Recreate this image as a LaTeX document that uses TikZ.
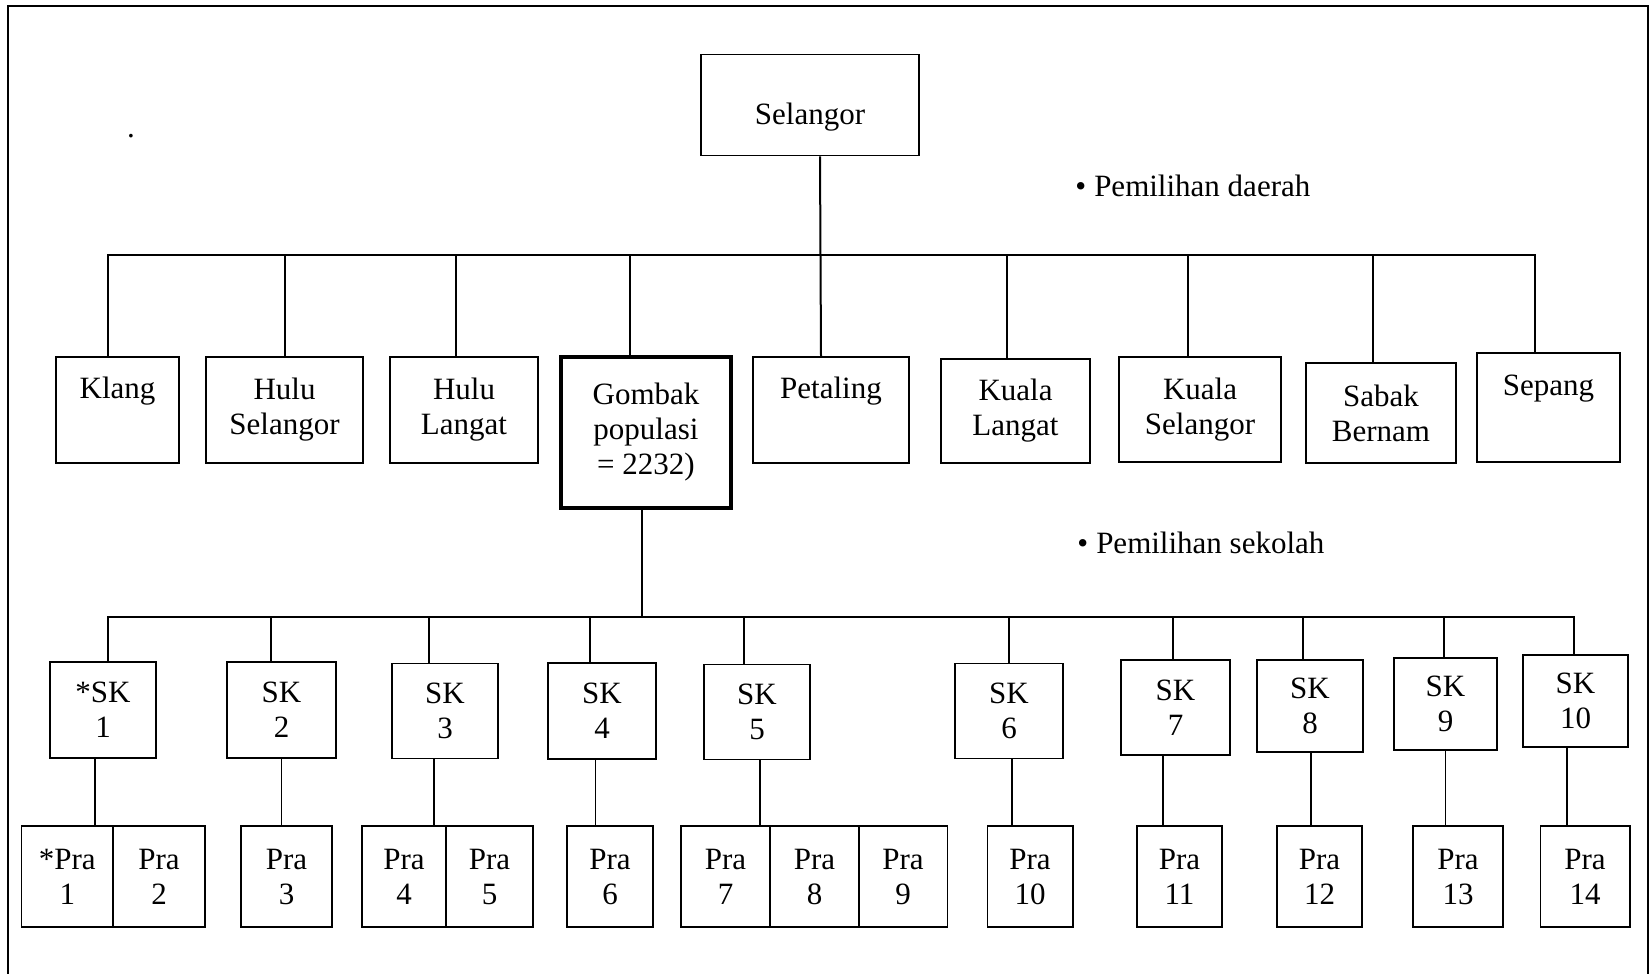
\documentclass[tikz,border=0pt]{standalone}
\usepackage{fontspec}
\setmainfont{Liberation Serif}
\usepackage{tikz}
\usetikzlibrary{positioning}

\begin{document}
\begin{tikzpicture}[
    x=0.5pt, y=-0.5pt,
    region/.style={draw, line width=0.8pt, align=center, inner sep=0pt, minimum height=53pt},
    school/.style={draw, line width=0.8pt, align=center, inner sep=0pt, minimum height=47.5pt},
    pre/.style={draw, line width=0.8pt, align=center, inner sep=0pt, minimum height=50.5pt},
    link/.style={line width=0.8pt},
    bus/.style={line width=1pt},
    note/.style={anchor=base west, inner sep=0pt},
    font=\fontsize{15.5}{17.5}\selectfont
]
\useasboundingbox (0,0) rectangle (1650,974);
\draw[line width=1pt] (8,974) -- (8,6) -- (1648,6) -- (1648,974);

\node[draw, line width=0.8pt, inner sep=0pt, minimum width=109pt, minimum height=50.5pt, text height=20pt, text depth=0pt] (selangor) at (810,105) {Selangor};
\node[anchor=base, inner sep=0pt] (dot) at (131,138) {.};
\node[note] (daerah) at (1075,197) {\textbullet\hspace{4pt}Pemilihan daerah};
\node[note] (sekolah) at (1077,553) {\textbullet\hspace{4pt}Pemilihan sekolah};

% daerah
\node[region, minimum width=61.5pt] (klang) at (117.5,410) {Klang\\\strut};
\node[region, minimum width=78.5pt] (hulusel) at (284.5,410) {Hulu\\Selangor};
\node[region, minimum width=74pt] (hululangat) at (464,410) {Hulu\\Langat};
\node[region, line width=1.7pt, minimum width=85pt, minimum height=75.5pt] (gombak) at (646,432.5) {Gombak\\populasi\\= 2232)};
\node[region, minimum width=78pt] (petaling) at (831,410) {Petaling\\\strut};
\node[region, minimum width=74.5pt, minimum height=52pt] (kualalangat) at (1015.5,411) {Kuala\\Langat};
\node[region, minimum width=81pt, minimum height=52.5pt] (kualasel) at (1200,409.5) {Kuala\\Selangor};
\node[region, minimum width=75pt, minimum height=50pt] (sabak) at (1381,413) {Sabak\\Bernam};
\node[region, minimum width=71.5pt, minimum height=54.5pt] (sepang) at (1548.5,407.5) {Sepang\\\strut};

% sekolah
\node[school, minimum width=53pt, minimum height=48pt] (sk1) at (103,710) {*SK\\1};
\node[school, minimum width=54.5pt, minimum height=48pt] (sk2) at (281.5,710) {SK\\2};
\node[school, minimum width=52.75pt] (sk3) at (445,711) {SK\\3};
\node[school, minimum width=54pt, minimum height=48pt] (sk4) at (602,711) {SK\\4};
\node[school, minimum width=52.75pt] (sk5) at (757,712) {SK\\5};
\node[school, minimum width=54pt] (sk6) at (1009,711) {SK\\6};
\node[school, minimum width=54.5pt] (sk7) at (1175.5,707.5) {SK\\7};
\node[school, minimum width=52.75pt, minimum height=46pt] (sk8) at (1310,706) {SK\\8};
\node[school, minimum width=51.5pt, minimum height=46pt] (sk9) at (1445.5,704) {SK\\9};
\node[school, minimum width=52.5pt, minimum height=46pt] (sk10) at (1575.5,701) {SK\\10};

% prasekolah
\node[pre, minimum width=45.7pt] (pra1) at (67.3,876.5) {*Pra\\1};
\node[pre, minimum width=46pt] (pra2) at (159,876.5) {Pra\\2};
\node[pre, minimum width=45.5pt] (pra3) at (286.5,876.5) {Pra\\3};
\node[pre, minimum width=42pt] (pra4) at (404,876.5) {Pra\\4};
\node[pre, minimum width=43.5pt] (pra5) at (489.5,876.5) {Pra\\5};
\node[pre, minimum width=43.25pt] (pra6) at (610,876.5) {Pra\\6};
\node[pre, minimum width=44.5pt] (pra7) at (725.5,876.5) {Pra\\7};
\node[pre, minimum width=44.5pt] (pra8) at (814.5,876.5) {Pra\\8};
\node[pre, minimum width=44.3pt] (pra9) at (903,876.5) {Pra\\9};
\node[pre, minimum width=42.7pt] (pra10) at (1030,876.5) {Pra\\10};
\node[pre, minimum width=42.5pt] (pra11) at (1179.5,876.5) {Pra\\11};
\node[pre, minimum width=42.5pt] (pra12) at (1319.5,876.5) {Pra\\12};
\node[pre, minimum width=45pt] (pra13) at (1458,876.5) {Pra\\13};
\node[pre, minimum width=44.7pt] (pra14) at (1585,876.5) {Pra\\14};

% selangor -> daerah
\coordinate (bus1) at (820,255);
\draw[bus] ([xshift=5pt]selangor.south) -- ([xshift=-5pt]petaling.north);
\draw[bus] ([xshift=-4.75pt]klang.north) |- (bus1);
\draw[bus] (hulusel.north) |- (bus1);
\draw[bus] ([xshift=-4pt]hululangat.north) |- (bus1);
\draw[bus] ([xshift=-8pt]gombak.north) |- (bus1);
\draw[bus] ([xshift=-4.25pt]kualalangat.north) |- (bus1);
\draw[bus] ([xshift=-6.25pt]kualasel.north) |- (bus1);
\draw[bus] ([xshift=-4pt]sabak.north) |- (bus1);
\draw[bus] ([xshift=-6.75pt]sepang.north) |- (bus1);

% gombak -> sekolah
\coordinate (bus2) at (642,617);
\draw[bus] ([xshift=-2pt]gombak.south) -- (bus2);
\draw[bus] ([xshift=2.5pt]sk1.north) |- (bus2);
\draw[bus] ([xshift=-5.25pt]sk2.north) |- (bus2);
\draw[bus] ([xshift=-8pt]sk3.north) |- (bus2);
\draw[bus] ([xshift=-6pt]sk4.north) |- (bus2);
\draw[bus] ([xshift=-6.75pt]sk5.north) |- (bus2);
\draw[bus] (sk6.north) |- (bus2);
\draw[bus] ([xshift=-1.25pt]sk7.north) |- (bus2);
\draw[bus] ([xshift=-3.5pt]sk8.north) |- (bus2);
\draw[bus] ([xshift=-0.75pt]sk9.north) |- (bus2);
\draw[bus] ([xshift=-0.75pt]sk10.north) |- (bus2);

% sekolah -> prasekolah
\draw[link] ([xshift=-4pt]sk1.south) -- ([xshift=-4pt]sk1.south |- pra1.north);
\draw[link] (sk2.south) -- (sk2.south |- pra3.north);
\draw[link] ([xshift=-5.5pt]sk3.south) -- ([xshift=-5.5pt]sk3.south |- pra4.north);
\draw[link] ([xshift=-3.2pt]sk4.south) -- ([xshift=-3.2pt]sk4.south |- pra6.north);
\draw[link] ([xshift=1.5pt]sk5.south) -- ([xshift=1.5pt]sk5.south |- pra7.north);
\draw[link] ([xshift=1.5pt]sk6.south) -- ([xshift=1.5pt]sk6.south |- pra10.north);
\draw[link] ([xshift=-6.25pt]sk7.south) -- ([xshift=-6.25pt]sk7.south |- pra11.north);
\draw[link] ([xshift=0.5pt]sk8.south) -- ([xshift=0.5pt]sk8.south |- pra12.north);
\draw[link] (sk9.south) -- (sk9.south |- pra13.north);
\draw[link] ([xshift=-4.25pt]sk10.south) -- ([xshift=-4.25pt]sk10.south |- pra14.north);

\end{tikzpicture}
\end{document}
